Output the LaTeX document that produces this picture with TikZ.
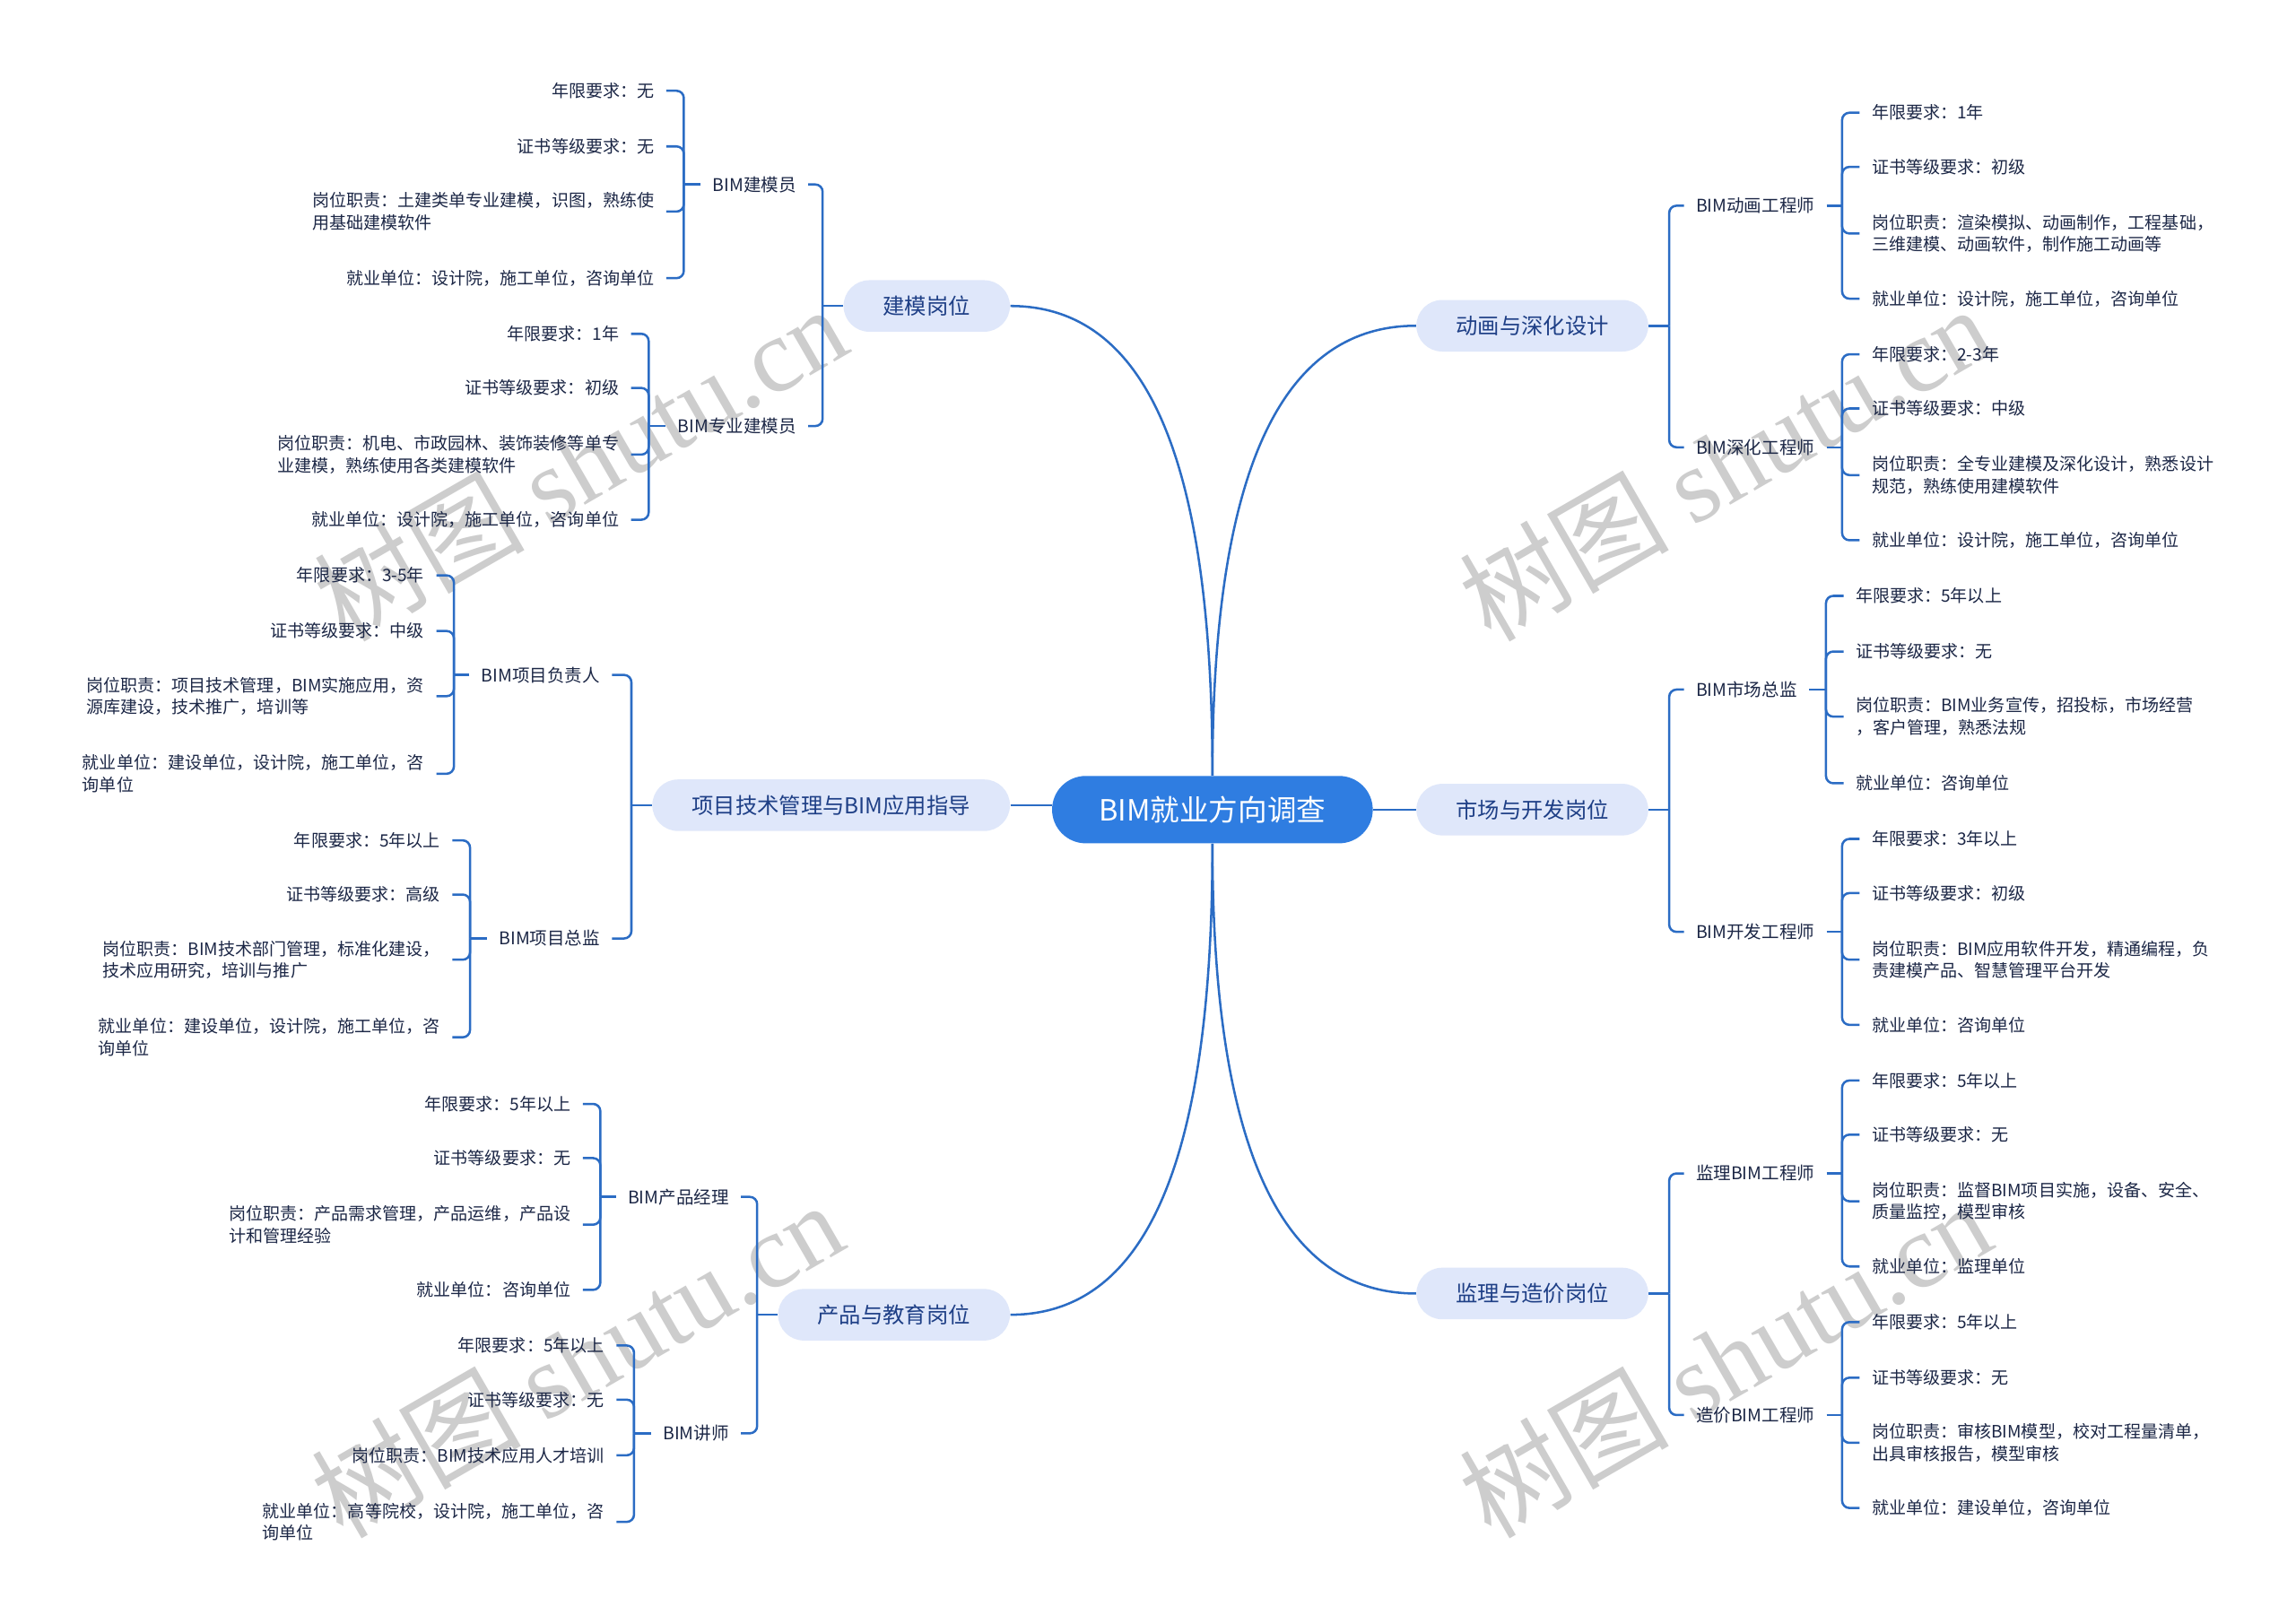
\documentclass[tikz,border=0pt]{standalone}
\usepackage{fontspec}
\setmainfont{Noto Sans CJK SC}
\newfontfamily\wmlatin{Liberation Serif}
\definecolor{linec}{HTML}{2B6CC4}
\definecolor{rootc}{HTML}{2F7DE1}
\definecolor{lonefill}{HTML}{DFE7FA}
\definecolor{lonetext}{HTML}{1E3F86}
\definecolor{leaftext}{HTML}{1C2746}
\definecolor{wmc}{HTML}{CDCDCD}
\tikzset{
  conn/.style={draw=linec, line width=1.1pt, rounded corners=0.125cm},
  root/.style={fill=rootc, text=white, rounded corners=0.575cm, minimum height=1.15cm, inner xsep=0.8cm, inner ysep=0pt, font=\fontsize{14.2}{17}\selectfont},
  lone/.style={fill=lonefill, text=lonetext, rounded corners=0.44cm, minimum height=0.88cm, inner xsep=0.675cm, inner ysep=0pt, font=\fontsize{10.6}{13}\selectfont},
  ltwo/.style={text=leaftext, inner xsep=0.2cm, inner ysep=1pt, font=\fontsize{8.5}{11}\selectfont},
  leaf/.style={text=leaftext, inner xsep=0.2cm, inner ysep=1pt, align=left, font=\fontsize{8.3}{10.67}\selectfont},
  wm/.style={text=wmc, rotate=30, font=\fontsize{51}{55}\selectfont}
}
\begin{document}
\begin{tikzpicture}[x=0.025cm, y=-0.025cm]
\fill[white] (0,0) rectangle (1568,1109);
\useasboundingbox (0,0) rectangle (1568,1109);

% watermarks
\node[wm] (w1) at (396,316) {树图 {\wmlatin shutu.cn}};
\node[wm] (w2) at (394,928) {树图 {\wmlatin shutu.cn}};
\node[wm] (w3) at (1178,316) {树图 {\wmlatin shutu.cn}};
\node[wm] (w4) at (1178,928) {树图 {\wmlatin shutu.cn}};

% root and level 1
\node[root] (root) at (828,553) {BIM就业方向调查};
\node[lone, anchor=east] (nm) at (690,209) {建模岗位};
\node[lone, anchor=east] (np) at (690,550) {项目技术管理与BIM应用指导};
\node[lone, anchor=east] (ne) at (690,898) {产品与教育岗位};
\node[lone, anchor=west] (na) at (967,222.5) {动画与深化设计};
\node[lone, anchor=west] (ns) at (967,553) {市场与开发岗位};
\node[lone, anchor=west] (nj) at (967,883.5) {监理与造价岗位};

\draw[conn] (root.north) .. controls +(0,-200) and +(100,0) .. (nm.east);
\draw[conn] (root.north) .. controls +(0,-190) and +(-100,0) .. (na.west);
\draw[conn] (root.south) .. controls +(0,200) and +(100,0) .. (ne.east);
\draw[conn] (root.south) .. controls +(0,190) and +(-100,0) .. (nj.west);
\draw[conn] (np.east) -- (np.east -| root.west);
\draw[conn] (ns.west) -- (ns.west -| root.east);

% level 2 junctions
\coordinate (jm) at ([xshift=-0.35cm]nm.west);
\coordinate (jp) at ([xshift=-0.35cm]np.west);
\coordinate (je) at ([xshift=-0.35cm]ne.west);
\coordinate (ja) at ([xshift=0.35cm]na.east);
\coordinate (js) at ([xshift=0.35cm]ns.east);
\coordinate (jj) at ([xshift=0.35cm]nj.east);
\draw[conn] (nm.west) -- (jm);
\draw[conn] (np.west) -- (jp);
\draw[conn] (ne.west) -- (je);
\draw[conn] (na.east) -- (ja);
\draw[conn] (ns.east) -- (js);
\draw[conn] (nj.east) -- (jj);

% level 2 nodes
\node[ltwo, anchor=east] (m1) at (552,126) {BIM建模员};
\node[ltwo, anchor=east] (m2) at (552,291) {BIM专业建模员};
\node[ltwo, anchor=east] (p1) at (418,461) {BIM项目负责人};
\node[ltwo, anchor=east] (p2) at (418,641) {BIM项目总监};
\node[ltwo, anchor=east] (e1) at (506,817.5) {BIM产品经理};
\node[ltwo, anchor=east] (e2) at (506,979) {BIM讲师};
\node[ltwo, anchor=west] (a1) at (1150,140.5) {BIM动画工程师};
\node[ltwo, anchor=west] (a2) at (1150,305.5) {BIM深化工程师};
\node[ltwo, anchor=west] (s1) at (1150,471) {BIM市场总监};
\node[ltwo, anchor=west] (s2) at (1150,636.5) {BIM开发工程师};
\node[ltwo, anchor=west] (j1) at (1150,801.5) {监理BIM工程师};
\node[ltwo, anchor=west] (j2) at (1150,966.5) {造价BIM工程师};
\foreach \c/\p in {m1/jm,m2/jm,p1/jp,p2/jp,e1/je,e2/je}{\draw[conn] (\p) |- (\c.east);}
\foreach \c/\p in {a1/ja,a2/ja,s1/js,s2/js,j1/jj,j2/jj}{\draw[conn] (\p) |- (\c.west);}

% level 3 junctions
\coordinate (km1) at (467,126);
\coordinate (km2) at (443,291);
\coordinate (kp1) at (310,461);
\coordinate (kp2) at (321,641);
\coordinate (ke1) at (410,817.5);
\coordinate (ke2) at (433,979);
\coordinate (ka1) at (1258,140.5);
\coordinate (ka2) at (1258,305.5);
\coordinate (ks1) at (1247,471);
\coordinate (ks2) at (1258,636.5);
\coordinate (kj1) at (1258,801.5);
\coordinate (kj2) at (1258,966.5);
\foreach \n in {m1,m2,p1,p2,e1,e2}{\draw[conn] (\n.west) -- (k\n);}
\foreach \n in {a1,a2,s1,s2,j1,j2}{\draw[conn] (\n.east) -- (k\n);}

% leaves: BIM建模员
\node[leaf, anchor=east] (m1a) at (455,62) {年限要求：无};
\node[leaf, anchor=east] (m1b) at (455,100) {证书等级要求：无};
\node[leaf, anchor=east] (m1c) at (455,144.5) {岗位职责：土建类单专业建模，识图，熟练使\\用基础建模软件};
\node[leaf, anchor=east] (m1d) at (455,190) {就业单位：设计院，施工单位，咨询单位};
% BIM专业建模员
\node[leaf, anchor=east] (m2a) at (431,228) {年限要求：1年};
\node[leaf, anchor=east] (m2b) at (431,265) {证书等级要求：初级};
\node[leaf, anchor=east] (m2c) at (431,310.5) {岗位职责：机电、市政园林、装饰装修等单专\\业建模，熟练使用各类建模软件};
\node[leaf, anchor=east] (m2d) at (431,355) {就业单位：设计院，施工单位，咨询单位};
% BIM项目负责人
\node[leaf, anchor=east] (p1a) at (298,393) {年限要求：3-5年};
\node[leaf, anchor=east] (p1b) at (298,431) {证书等级要求：中级};
\node[leaf, anchor=east] (p1c) at (298,475.5) {岗位职责：项目技术管理，BIM实施应用，资\\源库建设，技术推广，培训等};
\node[leaf, anchor=east] (p1d) at (298,528.5) {就业单位：建设单位，设计院，施工单位，咨\\询单位};
% BIM项目总监
\node[leaf, anchor=east] (p2a) at (309,574) {年限要求：5年以上};
\node[leaf, anchor=east] (p2b) at (309,611) {证书等级要求：高级};
\node[leaf, anchor=east] (p2c) at (309,655.5) {岗位职责：BIM技术部门管理，标准化建设，\\技术应用研究，培训与推广};
\node[leaf, anchor=east] (p2d) at (309,708.5) {就业单位：建设单位，设计院，施工单位，咨\\询单位};
% BIM产品经理
\node[leaf, anchor=east] (e1a) at (398,754) {年限要求：5年以上};
\node[leaf, anchor=east] (e1b) at (398,791) {证书等级要求：无};
\node[leaf, anchor=east] (e1c) at (398,836.5) {岗位职责：产品需求管理，产品运维，产品设\\计和管理经验};
\node[leaf, anchor=east] (e1d) at (398,881) {就业单位：咨询单位};
% BIM讲师
\node[leaf, anchor=east] (e2a) at (421,919) {年限要求：5年以上};
\node[leaf, anchor=east] (e2b) at (421,956) {证书等级要求：无};
\node[leaf, anchor=east] (e2c) at (421,994) {岗位职责：BIM技术应用人才培训};
\node[leaf, anchor=east] (e2d) at (421,1039.5) {就业单位：高等院校，设计院，施工单位，咨\\询单位};
% BIM动画工程师
\node[leaf, anchor=west] (a1a) at (1270,77) {年限要求：1年};
\node[leaf, anchor=west] (a1b) at (1270,114) {证书等级要求：初级};
\node[leaf, anchor=west] (a1c) at (1270,159.5) {岗位职责：渲染模拟、动画制作，工程基础，\\三维建模、动画软件，制作施工动画等};
\node[leaf, anchor=west] (a1d) at (1270,204) {就业单位：设计院，施工单位，咨询单位};
% BIM深化工程师
\node[leaf, anchor=west] (a2a) at (1270,242) {年限要求：2-3年};
\node[leaf, anchor=west] (a2b) at (1270,279) {证书等级要求：中级};
\node[leaf, anchor=west] (a2c) at (1270,324.5) {岗位职责：全专业建模及深化设计，熟悉设计\\规范，熟练使用建模软件};
\node[leaf, anchor=west] (a2d) at (1270,369) {就业单位：设计院，施工单位，咨询单位};
% BIM市场总监
\node[leaf, anchor=west] (s1a) at (1259,407) {年限要求：5年以上};
\node[leaf, anchor=west] (s1b) at (1259,445) {证书等级要求：无};
\node[leaf, anchor=west] (s1c) at (1259,489.5) {岗位职责：BIM业务宣传，招投标，市场经营\\，客户管理，熟悉法规};
\node[leaf, anchor=west] (s1d) at (1259,535) {就业单位：咨询单位};
% BIM开发工程师
\node[leaf, anchor=west] (s2a) at (1270,573) {年限要求：3年以上};
\node[leaf, anchor=west] (s2b) at (1270,610) {证书等级要求：初级};
\node[leaf, anchor=west] (s2c) at (1270,655.5) {岗位职责：BIM应用软件开发，精通编程，负\\责建模产品、智慧管理平台开发};
\node[leaf, anchor=west] (s2d) at (1270,700) {就业单位：咨询单位};
% 监理BIM工程师
\node[leaf, anchor=west] (j1a) at (1270,738) {年限要求：5年以上};
\node[leaf, anchor=west] (j1b) at (1270,775) {证书等级要求：无};
\node[leaf, anchor=west] (j1c) at (1270,820.5) {岗位职责：监督BIM项目实施，设备、安全、\\质量监控，模型审核};
\node[leaf, anchor=west] (j1d) at (1270,865) {就业单位：监理单位};
% 造价BIM工程师
\node[leaf, anchor=west] (j2a) at (1270,903) {年限要求：5年以上};
\node[leaf, anchor=west] (j2b) at (1270,941) {证书等级要求：无};
\node[leaf, anchor=west] (j2c) at (1270,985.5) {岗位职责：审核BIM模型，校对工程量清单，\\出具审核报告，模型审核};
\node[leaf, anchor=west] (j2d) at (1270,1030) {就业单位：建设单位，咨询单位};

\foreach \g in {m1,m2,p1,p2,e1,e2}{
  \foreach \l in {a,b,c,d}{\draw[conn] (k\g) |- (\g\l.east);}
}
\foreach \g in {a1,a2,s1,s2,j1,j2}{
  \foreach \l in {a,b,c,d}{\draw[conn] (k\g) |- (\g\l.west);}
}
\end{tikzpicture}
\end{document}
